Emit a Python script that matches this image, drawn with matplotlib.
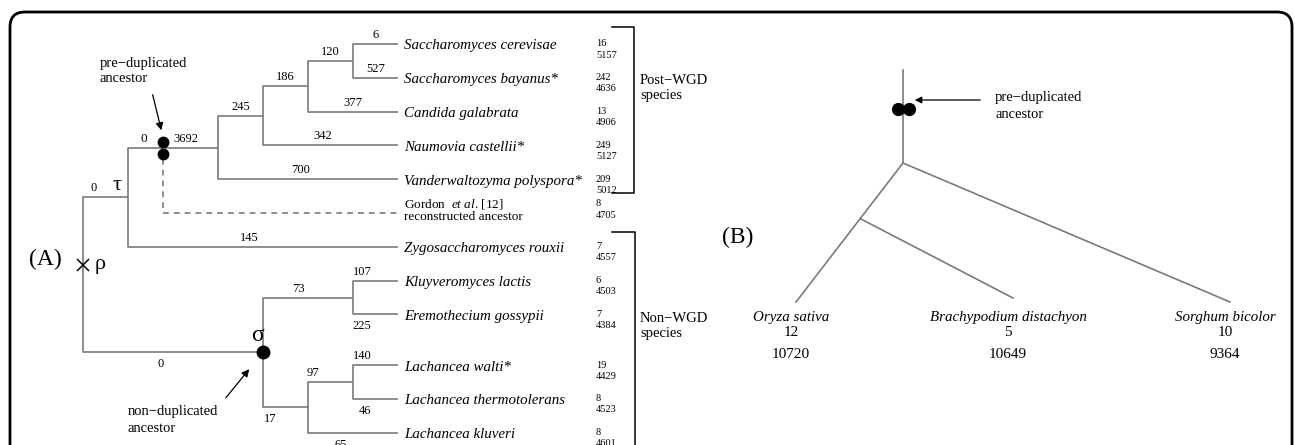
import matplotlib
matplotlib.use('Agg')
import matplotlib.pyplot as plt
from matplotlib import transforms
from matplotlib.patches import FancyBboxPatch

plt.rcParams['font.family'] = ['Liberation Serif', 'DejaVu Serif']
plt.rcParams['mathtext.fontset'] = 'custom'
plt.rcParams['mathtext.rm'] = 'Liberation Serif'
plt.rcParams['mathtext.it'] = 'Liberation Serif:italic'

# ---- panel A: yeast tree ----
leaf_names = ['Saccharomyces cerevisae', 'Saccharomyces bayanus*', 'Candida galabrata',
              'Naumovia castellii*', 'Vanderwaltozyma polyspora*', 'Zygosaccharomyces rouxii',
              'Kluyveromyces lactis', 'Eremothecium gossypii', 'Lachancea walti*',
              'Lachancea thermotolerans', 'Lachancea kluveri']
leaf_rows = [0, 1, 2, 3, 4, 6, 7, 8, 9.5, 10.5, 11.5]
leaf_chrom = [16, 242, 13, 249, 209, 7, 6, 7, 19, 8, 8]
leaf_genes = [5157, 4636, 4906, 5127, 5012, 4557, 4503, 4384, 4429, 4523, 4601]

gordon_row = 5
gordon_chrom = 8
gordon_genes = 4705

node_levels = {'root': 0, 'tau': 1, 'n3692': 3, 'n245': 4, 'n186': 5, 'n120': 6,
               'sigma': 4, 'n73': 6, 'n17': 5, 'n97': 6}
leaf_level = 7
dup_level = 1.78          # pre-duplicated ancestor on the tau -> n3692 branch
dup_labels = ('0', '3692')

edges = [
    ('root', 'tau', '0', 'above'),
    ('root', 'sigma', '0', 'below'),
    ('tau', 'n3692', None, 'above'),
    ('tau', 'Zygosaccharomyces rouxii', '145', 'above'),
    ('n3692', 'n245', '245', 'above'),
    ('n3692', 'Vanderwaltozyma polyspora*', '700', 'above'),
    ('n245', 'n186', '186', 'above'),
    ('n245', 'Naumovia castellii*', '342', 'above'),
    ('n186', 'n120', '120', 'above'),
    ('n186', 'Candida galabrata', '377', 'above'),
    ('n120', 'Saccharomyces cerevisae', '6', 'above'),
    ('n120', 'Saccharomyces bayanus*', '527', 'above'),
    ('sigma', 'n73', '73', 'above'),
    ('sigma', 'n17', '17', 'below'),
    ('n73', 'Kluyveromyces lactis', '107', 'above'),
    ('n73', 'Eremothecium gossypii', '225', 'below'),
    ('n17', 'n97', '97', 'above'),
    ('n17', 'Lachancea kluveri', '65', 'below'),
    ('n97', 'Lachancea walti*', '140', 'above'),
    ('n97', 'Lachancea thermotolerans', '46', 'below'),
]

# ---- panel B: grass tree ----
b_names = ['Oryza sativa', 'Brachypodium distachyon', 'Sorghum bicolor']
b_chrom = [12, 5, 10]
b_genes = [10720, 10649, 9364]

# where along a branch its count sits (fraction of branch length)
label_frac = {'tau': 0.24, 'sigma': 0.43, 'Zygosaccharomyces rouxii': 0.45,
              'Vanderwaltozyma polyspora*': 0.46, 'Naumovia castellii*': 0.44,
              'n73': 0.39, 'n17': 0.16, 'Kluyveromyces lactis': 0.2,
              'Eremothecium gossypii': 0.2, 'Lachancea walti*': 0.2,
              'Lachancea thermotolerans': 0.27, 'n97': 0.11, 'Lachancea kluveri': 0.36}

gray = '#7a7a7a'
lw = 1.2

fig = plt.figure(figsize=(12.95, 4.45), dpi=100)
ax = fig.add_axes([0, 0, 1, 1])
ax.set_xlim(-83 / 45, (1295 - 83) / 45)
ax.set_ylim((445 - 44) / 33.8, -44 / 33.8)
ax.axis('off')
bg = fig.add_axes([0, 0, 1, 1])
bg.set_xlim(0, 1295)
bg.set_ylim(445, 0)
bg.axis('off')
blend = transforms.blended_transform_factory(bg.transData, ax.transData)

children = {}
for p, c, _, _ in edges:
    children.setdefault(p, []).append(c)


def level(n):
    return node_levels.get(n, leaf_level)


def row(n):
    if n in leaf_names:
        return leaf_rows[leaf_names.index(n)]
    rs = [row(c) for c in children[n]]
    return (min(rs) + max(rs)) / 2


for p, c, lab, side in edges:
    xp, yp, xc, yc = level(p), row(p), level(c), row(c)
    ax.plot([xp, xp, xc], [yp, yc, yc], color=gray, lw=lw, solid_capstyle='butt')
    if lab is None:
        continue
    f = label_frac.get(c, 0.5)
    dy = 9 if side == 'above' else -12
    ax.annotate(lab, (xp + f * (xc - xp), yc), xytext=(0, dy), textcoords='offset pixels',
                ha='center', va='center', fontsize=9)

# labels either side of the pre-duplicated ancestor
yd = row('n3692')
ax.annotate(dup_labels[0], ((level('tau') + dup_level) / 2, yd), xytext=(-2, 9),
            textcoords='offset pixels', ha='center', va='center', fontsize=9.5)
ax.annotate(dup_labels[1], (dup_level + 0.42 * (level('n3692') - dup_level), yd),
            xytext=(0, 9), textcoords='offset pixels', ha='center', va='center', fontsize=9)

# dashed line to Gordon et al. reconstructed ancestor
ax.plot([dup_level, dup_level, leaf_level], [yd, gordon_row, gordon_row], color=gray,
        lw=lw, ls=(0, (3.5, 3)))

# pre-duplicated ancestor (two dots) and sigma node
for off in (6, -6):
    tr = transforms.offset_copy(ax.transData, fig, x=0, y=off, units='dots')
    ax.plot(dup_level, yd, 'o', color='black', ms=7.5, transform=tr, zorder=5)
ax.plot(level('sigma'), row('sigma'), 'o', color='black', ms=9, zorder=5)
ax.plot(0, row('root') - 0.3, marker='x', color='black', ms=8, mew=1.1, zorder=5)

ax.annotate('τ', (level('tau'), row('tau')), xytext=(-11, 12), textcoords='offset pixels',
            ha='center', va='center', fontsize=16)
ax.annotate('ρ', (0, row('root') - 0.3), xytext=(17, 0), textcoords='offset pixels',
            ha='center', va='center', fontsize=16)
ax.annotate('σ', (level('sigma'), row('sigma')), xytext=(-5, 17), textcoords='offset pixels',
            ha='center', va='center', fontsize=17)

# leaf names and counts (chromosome-level count above gene count)
for name, r, ch, g in zip(leaf_names, leaf_rows, leaf_chrom, leaf_genes):
    ax.annotate(name, (leaf_level, r), xytext=(6, -2), textcoords='offset pixels',
                ha='left', va='center', fontsize=10.8, style='italic')
    bg.text(596, r, str(ch), transform=blend, ha='left', va='center', fontsize=7.5)
    bg.annotate(str(g), (596, r), xycoords=blend, xytext=(0, -11),
                textcoords='offset pixels', ha='left', va='center', fontsize=7.5)

ax.annotate(r'Gordon  $\mathit{et\ al}$. [12]', (leaf_level, gordon_row), xytext=(6, 9),
            textcoords='offset pixels', ha='left', va='center', fontsize=9.5)
ax.annotate('reconstructed ancestor', (leaf_level, gordon_row), xytext=(6, -4),
            textcoords='offset pixels', ha='left', va='center', fontsize=9.5)
bg.annotate(str(gordon_chrom), (596, gordon_row), xycoords=blend, xytext=(0, 9),
            textcoords='offset pixels', ha='left', va='center', fontsize=7.5)
bg.annotate(str(gordon_genes), (596, gordon_row), xycoords=blend, xytext=(0, -3),
            textcoords='offset pixels', ha='left', va='center', fontsize=7.5)

# brackets
bg.plot([612, 634, 634, 612], [27, 27, 193, 193], color='black', lw=1.1)
bg.plot([612, 635, 635], [232, 232, 460], color='black', lw=1.1)
bg.text(640, 80, 'Post−WGD', ha='left', va='center', fontsize=10.5)
bg.text(640, 95, 'species', ha='left', va='center', fontsize=10.5)
bg.text(640, 318, 'Non−WGD', ha='left', va='center', fontsize=10.5)
bg.text(640, 334, 'species', ha='left', va='center', fontsize=10.5)

bg.text(100, 63, 'pre−duplicated', ha='left', va='center', fontsize=10.5)
bg.text(100, 79, 'ancestor', ha='left', va='center', fontsize=10.5)
bg.annotate('', xy=(162, 133), xytext=(152, 92),
            arrowprops=dict(arrowstyle='-|>', color='black', lw=0.9, mutation_scale=11))
bg.text(128, 412, 'non−duplicated', ha='left', va='center', fontsize=10.5)
bg.text(128, 429, 'ancestor', ha='left', va='center', fontsize=10.5)
bg.annotate('', xy=(251, 367), xytext=(224, 400),
            arrowprops=dict(arrowstyle='-|>', color='black', lw=0.9, mutation_scale=11))
bg.text(45, 259, '(A)', ha='center', va='center', fontsize=17)

# ---- panel B drawing ----
root_b = (903, 163)
stem_top = 70
tip_x = [796 + 217 * i for i in range(len(b_names))]
tip_y = [302, 298, 302]
t_in = 0.40
inner = (root_b[0] + t_in * (tip_x[0] - root_b[0]), root_b[1] + t_in * (tip_y[0] - root_b[1]))
bg.plot([root_b[0], root_b[0]], [stem_top, root_b[1]], color=gray, lw=lw)
bg.plot([root_b[0], tip_x[0]], [root_b[1], tip_y[0]], color=gray, lw=lw)
bg.plot([inner[0], tip_x[1]], [inner[1], tip_y[1]], color=gray, lw=lw)
bg.plot([root_b[0], tip_x[2]], [root_b[1], tip_y[2]], color=gray, lw=lw)
for dx in (-5.5, 5.5):
    bg.plot(root_b[0] + dx, 109, 'o', color='black', ms=8.5, zorder=5)
bg.annotate('', xy=(912, 100), xytext=(983, 100),
            arrowprops=dict(arrowstyle='-|>', color='black', lw=0.9, mutation_scale=10))
bg.text(995, 97, 'pre−duplicated', ha='left', va='center', fontsize=10.5)
bg.text(995, 114, 'ancestor', ha='left', va='center', fontsize=10.5)
for x, name, ch, g in zip(tip_x, b_names, b_chrom, b_genes):
    bg.text(x - 5, 317, name, ha='center', va='center', fontsize=10.8, style='italic')
    bg.text(x - 5, 333, str(ch), ha='center', va='center', fontsize=11)
    bg.text(x - 5, 355, str(g), ha='center', va='center', fontsize=11)
bg.text(738, 237, '(B)', ha='center', va='center', fontsize=17)

# frame
bg.add_patch(FancyBboxPatch((10, 12), 1282, 470, boxstyle='round,pad=0,rounding_size=15',
                            facecolor='none', edgecolor='black', lw=2))

fig.savefig('out.png', dpi=100)
